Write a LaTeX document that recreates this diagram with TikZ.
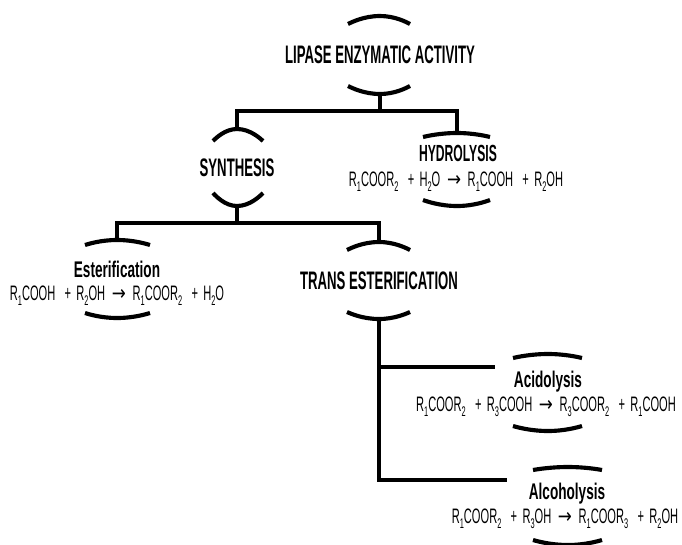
\documentclass[tikz,border=0pt]{standalone}
\usepackage{fontspec}
\newfontfamily\headfont{Liberation Sans}[FakeStretch=0.52]
\newfontfamily\subfont{Liberation Sans}[FakeStretch=0.6]
\newfontfamily\eqfont{Liberation Sans}[FakeStretch=0.53]
\newfontfamily\arrowfont{DejaVu Sans}[FakeStretch=0.8]
\newcommand{\yields}{\hspace{5pt}{\arrowfont →}\hspace{5pt}}
\newcommand{\plus}{\hspace{7pt}+\hspace{4pt}}
\newcommand{\ix}[1]{\raisebox{-0.5ex}{\fontsize{10.5}{11}\selectfont #1}}
\tikzset{
  head/.style={font=\headfont\bfseries\fontsize{19}{21}\selectfont, inner sep=0pt, anchor=base},
  subhead/.style={font=\subfont\bfseries\fontsize{17}{19}\selectfont, inner sep=0pt, anchor=base},
  eqn/.style={font=\eqfont\fontsize{15.7}{17}\selectfont, inner sep=0pt, anchor=base},
  link/.style={line width=2.6pt},
  bow/.style={line width=3.1pt}
}
\begin{document}
\begin{tikzpicture}[x=0.75pt, y=-0.75pt]
  \useasboundingbox (0,0) rectangle (682,544);
  \clip (0,0) rectangle (682,544);

  % texts
  \node[head] (lipase) at (380,63) {LIPASE ENZYMATIC ACTIVITY};
  \node[head] (synth) at (237,176) {SYNTHESIS};
  \node[head, font=\headfont\bfseries\fontsize{17.5}{19}\selectfont] (hydro) at (458,161) {HYDROLYSIS};
  \node[eqn] (hydroeq) at (456,186) {R\ix{1}COOR\ix{2}\plus H\ix{2}O\yields R\ix{1}COOH\plus R\ix{2}OH};
  \node[subhead] (ester) at (117,277) {Esterification};
  \node[eqn] (estereq) at (117,300) {R\ix{1}COOH\plus R\ix{2}OH\yields R\ix{1}COOR\ix{2}\plus H\ix{2}O};
  \node[head] (trans) at (379,289) {TRANS ESTERIFICATION};
  \node[subhead] (acido) at (548,387) {Acidolysis};
  \node[eqn] (acidoeq) at (546,411) {R\ix{1}COOR\ix{2}\plus R\ix{3}COOH\yields R\ix{3}COOR\ix{2}\plus R\ix{1}COOH};
  \node[subhead] (alco) at (567,499) {Alcoholysis};
  \node[eqn] (alcoeq) at (565,523) {R\ix{1}COOR\ix{2}\plus R\ix{3}OH\yields R\ix{1}COOR\ix{3}\plus R\ix{2}OH};

  % arcs around the texts
  \draw[bow] (348,24) parabola bend (380,16) (410,24);
  \draw[bow] (348,86) parabola bend (380,94) (410,86);
  \draw[bow] (213,141) parabola bend (237,129) (263,141);
  \draw[bow] (213,193) parabola bend (237,206) (263,193);
  \draw[bow] (423,137) parabola bend (457,133) (490,137);
  \draw[bow] (423,200) parabola bend (457,206) (490,200);
  \draw[bow] (85,245) parabola bend (117,240) (150,245);
  \draw[bow] (85,313) parabola bend (117,318) (150,313);
  \draw[bow] (347,250) parabola bend (379,242) (410,250);
  \draw[bow] (347,312) parabola bend (379,319) (410,312);
  \draw[bow] (513,358) parabola bend (548,354) (582,358);
  \draw[bow] (513,426) parabola bend (548,431) (582,426);
  \draw[bow] (533,470) parabola bend (568,467) (602,470);
  \draw[bow] (533,540) parabola bend (568,545) (602,540);

  % connector points
  \coordinate (lipaseB) at (380,94);
  \coordinate (synthT) at (237,129);
  \coordinate (synthB) at (237,206);
  \coordinate (hydroT) at (457,133);
  \coordinate (esterT) at (117,240);
  \coordinate (transT) at (379,242);
  \coordinate (transB) at (379,319);
  \coordinate (acidoL) at (495,367);
  \coordinate (alcoL) at (507,480);
  \coordinate (j1) at (380,111);
  \coordinate (j2) at (237,223);

  % connectors
  \draw[link] (lipaseB) -- (j1);
  \draw[link] (synthT) |- (j1) -| (hydroT);
  \draw[link] (synthB) -- (j2);
  \draw[link] (esterT) |- (j2) -| (transT);
  \draw[link] (transB) |- (acidoL);
  \draw[link] (transB) |- (alcoL);
\end{tikzpicture}
\end{document}
